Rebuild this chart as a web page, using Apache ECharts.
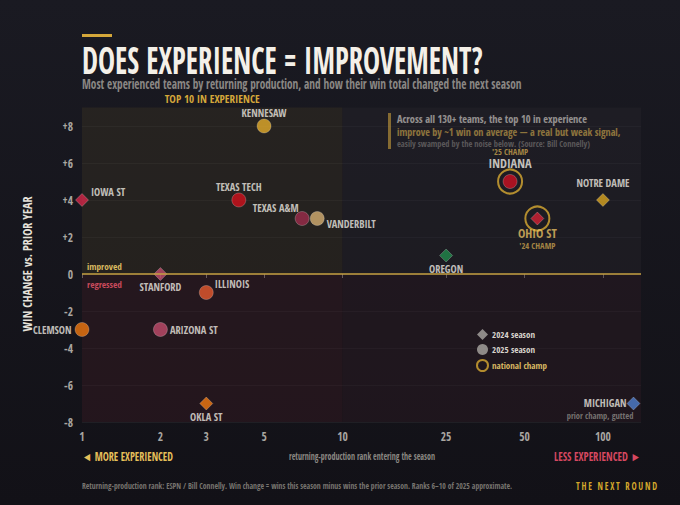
<!DOCTYPE html>
<html>
<head>
<meta charset="utf-8">
<script src="https://cdn.jsdelivr.net/npm/echarts@6/dist/echarts.min.js"></script>
<style>
html,body{margin:0;padding:0;background:#15141b;}
#chart{width:680px;height:505px;}
</style>
</head>
<body>
<div id="chart"></div>
<script>
// ---------------- DATA ----------------
const teams      = ['Kennesaw','Iowa St','Texas Tech','Texas A&M','Vanderbilt','Stanford','Illinois','Clemson','Arizona St','Okla St','Oregon','Indiana','Ohio St','Notre Dame','Michigan'];
const ranks      = [5, 1, 4, 7, 8, 2, 3, 1, 2, 3, 25, 44, 56, 100, 131];
const winChange  = [8, 4, 4, 3, 3, 0, -1, -3, -3, -7, 1, 5, 3, 4, -7];
const seasons    = [2025, 2024, 2025, 2025, 2025, 2024, 2025, 2025, 2025, 2024, 2024, 2025, 2024, 2024, 2024];
const champions  = ['Indiana', 'Ohio St'];
const champNotes = { 'Indiana': "'25 CHAMP", 'Ohio St': "'24 CHAMP" };
const xTickRanks = [1, 2, 3, 5, 10, 25, 50, 100];
const yTickVals  = [-8, -6, -4, -2, 0, 2, 4, 6, 8];
const rankMin    = 1;
const rankMax    = 140;
const winMin     = -8;
const winMax     = 9;
const top10Cut   = 10;

// ---------------- FONTS ----------------
const mctx = document.createElement('canvas').getContext('2d');
function hasFont(f){
  const s = 'KENNESAW mmwwiil 0123';
  const out = [];
  ['monospace','serif'].forEach(g=>{
    mctx.font = 'bold 40px ' + g; const a = mctx.measureText(s).width;
    mctx.font = "bold 40px '" + f + "', " + g; const b = mctx.measureText(s).width;
    out.push(a !== b);
  });
  return out[0] || out[1];
}
const fontCandidates = ['Liberation Sans Narrow','DejaVu Sans Condensed','Roboto Condensed','Oswald','Open Sans Condensed','Noto Sans Condensed','Roboto','Lato','Liberation Sans','Inter','Noto Sans','DejaVu Sans'];
let bestFont = 'sans-serif', bestW = Infinity;
fontCandidates.forEach(f=>{
  if (!hasFont(f)) return;
  mctx.font = "bold 40px '" + f + "'";
  const w = mctx.measureText('KENNESAW TEXAS A&M VANDERBILT').width;
  if (w < bestW) { bestW = w; bestFont = f; }
});
const COND = "'" + bestFont + "', sans-serif";
function textW(text, font){ mctx.font = font; return mctx.measureText(text).width; }
function fitScale(text, font, width){ const w = textW(text, font); return w > 0 ? width / w : 1; }
const LBL = Math.max(9.5, Math.min(11.5, 11 * 45 / textW('KENNESAW', 'bold 11px ' + COND)));

// ---------------- STYLES ----------------
const teamColors = {
  'Kennesaw':'#e4ab2b','Iowa St':'#d6284a','Texas Tech':'#d0101c','Texas A&M':'#9c2d4b',
  'Vanderbilt':'#d4af72','Stanford':'#c24d6b','Illinois':'#e65a2e','Clemson':'#f0780f',
  'Arizona St':'#c04c6c','Okla St':'#f27a12','Oregon':'#22894c','Indiana':'#cc1222',
  'Ohio St':'#d42234','Notre Dame':'#d9a520','Michigan':'#4f80cf'
};
const nameStyle = { color:'#eeeae2', fontFamily:COND, fontWeight:'bold', fontSize:LBL };
const labelSpec = {
  'Kennesaw':   { position:'top', distance:1 },
  'Iowa St':    { position:'right', distance:2, offset:[0,-8] },
  'Texas Tech': { position:'top', distance:1 },
  'Texas A&M':  { position:'left', distance:0, offset:[4,-11] },
  'Vanderbilt': { position:'right', distance:2, offset:[0,5] },
  'Stanford':   { position:'bottom', distance:1 },
  'Illinois':   { position:'right', distance:1, offset:[0,-9] },
  'Clemson':    { position:'left', distance:3 },
  'Arizona St': { position:'right', distance:2 },
  'Okla St':    { position:'bottom', distance:1 },
  'Oregon':     { position:'bottom', distance:1 },
  'Indiana':    { position:'top', distance:3 },
  'Ohio St':    { position:'bottom', distance:0 },
  'Notre Dame': { position:'top', distance:5 },
  'Michigan':   { position:'left', distance:5, offset:[12,5] }
};

function labelFor(t){
  const s = labelSpec[t];
  const base = Object.assign({ show:true }, nameStyle, s);
  if (t === 'Indiana') {
    base.formatter = '{c|' + champNotes[t] + '}\n{n|INDIANA}';
    base.rich = { c:{ color:'#c9a24e', fontFamily:COND, fontSize:8.5, align:'center', lineHeight:10 },
                  n:{ color:'#f2eee6', fontFamily:COND, fontWeight:'bold', fontSize:LBL + 2, align:'center', lineHeight:15 } };
  } else if (t === 'Ohio St') {
    base.formatter = '{n|OHIO ST}\n{c|' + champNotes[t] + '}';
    base.rich = { n:{ color:'#e8c062', fontFamily:COND, fontWeight:'bold', fontSize:LBL + 2, align:'center', lineHeight:15 },
                  c:{ color:'#c9a24e', fontFamily:COND, fontSize:8.5, align:'center', lineHeight:10 } };
  } else if (t === 'Michigan') {
    base.formatter = '{n|MICHIGAN}\n{s|prior champ, gutted}';
    base.rich = { n:{ color:'#eeeae2', fontFamily:COND, fontWeight:'bold', fontSize:LBL, align:'right', lineHeight:13, padding:[0,7,0,0] },
                  s:{ color:'#8d8a86', fontFamily:COND, fontSize:8.5, align:'right', lineHeight:11 } };
  } else {
    base.formatter = t.toUpperCase();
  }
  return base;
}

function point(i){
  const t = teams[i];
  return { name:t, value:[Math.log10(ranks[i]), winChange[i]],
           itemStyle:{ color:teamColors[t], borderColor:'rgba(255,255,255,0.28)', borderWidth:1 },
           label:labelFor(t) };
}
const idx = teams.map((t,i)=>i);
const data2024 = idx.filter(i=>seasons[i]===2024).map(point);
const data2025 = idx.filter(i=>seasons[i]===2025).map(point);
const dataChamp = champions.map(c=>{ const i = teams.indexOf(c); return { name:c, value:[Math.log10(ranks[i]), winChange[i]] }; });

const titleText = 'DOES EXPERIENCE = IMPROVEMENT?';
const titleFont = "bold 37px " + COND;
const subText = 'Most experienced teams by returning production, and how their win total changed the next season';
const subFont = "14px " + COND;
const footText = 'Returning-production rank: ESPN / Bill Connelly. Win change = wins this season minus wins the prior season. Ranks 6–10 of 2025 approximate.';
const footFont = "9.5px " + COND;
const ann1 = 'Across all 130+ teams, the top 10 in experience';
const ann2 = 'improve by ~1 win on average — a real but weak signal,';
const ann3 = 'easily swamped by the noise below. (Source: Bill Connelly)';
const ann1Font = "bold 11px " + COND, ann2Font = "bold 11px " + COND, ann3Font = "9px " + COND;
const moreText = '◄ MORE EXPERIENCED', lessText = 'LESS EXPERIENCED ►';
const dirFont = 'bold 12px ' + COND;
const xNameText = 'returning-production rank entering the season';
const xNameFont = '11px ' + COND;
const yNameBold = 'bold 12.5px ' + COND;
const brandText = 'THE NEXT ROUND'.split('').join('\u2009');
const brandFont = 'bold 11px ' + COND;
const top10Text = 'TOP 10 IN EXPERIENCE';
const top10Size = Math.min(11, 11 * 97 / textW(top10Text, 'bold 11px ' + COND));
const legendSize = Math.min(11, 11 * 43 / textW('2024 season', '11px ' + COND));
const markSize = Math.min(11, 11 * 35 / textW('regressed', 'bold 11px ' + COND));

const chart = echarts.init(document.getElementById('chart'), null, { renderer:'svg' });

const xLo = Math.log10(rankMin), xHi = Math.log10(rankMax), xCut = Math.log10(top10Cut);

const option = {
  backgroundColor: { type:'linear', x:0, y:0, x2:0, y2:1,
    colorStops:[{offset:0,color:'#1a1a22'},{offset:1,color:'#121117'}] },
  animation:false,
  grid:{ left:82, right:39, top:107.5, bottom:83, containLabel:false },
  legend:{
    left:471, top:324, orient:'vertical', itemWidth:11, itemHeight:11, itemGap:4,
    selectedMode:false,
    textStyle:{ color:'#d8d4cc', fontFamily:COND, fontSize:legendSize, padding:[0,0,0,-1] },
    data:[
      { name:'2024 season', icon:'diamond', itemStyle:{ color:'#aaa7a2', borderWidth:0 } },
      { name:'2025 season', icon:'circle', itemStyle:{ color:'#aaa7a2', borderWidth:0 } },
      { name:'national champ', icon:'circle', itemStyle:{ color:'rgba(0,0,0,0)', borderColor:'#d8aa32', borderWidth:2 },
        textStyle:{ color:'#d9b862' } }
    ]
  },
  xAxis:{
    type:'value', min:xLo, max:xHi,
    axisLine:{ show:false },
    splitLine:{ show:false },
    axisTick:{ show:true, length:4, inside:false, lineStyle:{ color:'#8a8782' },
               customValues: xTickRanks.map(r=>Math.log10(r)) },
    axisLabel:{ color:'#a9a6a1', fontFamily:COND, fontSize:11.5, margin:8,
                customValues: xTickRanks.map(r=>Math.log10(r)),
                formatter: v => String(Math.round(Math.pow(10, v))) }
  },
  yAxis:{
    type:'value', min:winMin, max:winMax, interval:2,
    axisLine:{ show:false }, axisTick:{ show:false },
    splitLine:{ show:true, showMaxLine:false, lineStyle:{ color:'rgba(255,255,255,0.055)', width:1 } },
    axisLabel:{ color:'#a9a6a1', fontFamily:COND, fontSize:11.5, margin:9,
                customValues: yTickVals,
                formatter: v => v > 0 ? '+' + v : String(v) }
  },
  series:[
    { name:'regions', type:'scatter', data:[], silent:true, z:-1,
      markArea:{ silent:true,
        data:[
          [{ coord:[xLo, 0], itemStyle:{ color:'rgba(60,52,34,0.40)' },
             label:{ show:true, position:'top', distance:4, formatter:top10Text,
                     color:'#d4a73a', fontFamily:COND, fontWeight:'bold', fontSize:top10Size } },
           { coord:[xCut, winMax] }],
          [{ coord:[xLo, winMin], itemStyle:{ color:'rgba(60,28,34,0.40)' }, label:{ show:false } },
           { coord:[xCut, 0] }],
          [{ coord:[xCut, 0], itemStyle:{ color:'rgba(38,36,42,0.45)' }, label:{ show:false } },
           { coord:[xHi, winMax] }],
          [{ coord:[xCut, winMin], itemStyle:{ color:'rgba(44,26,36,0.45)' }, label:{ show:false } },
           { coord:[xHi, 0] }]
        ] } },
    { name:'national champ', type:'scatter', symbol:'circle', symbolSize:24, silent:true, z:3,
      itemStyle:{ color:'rgba(0,0,0,0)', borderColor:'#d8aa32', borderWidth:2 },
      label:{ show:false }, data:dataChamp },
    { name:'2024 season', type:'scatter', symbol:'diamond', symbolSize:13, z:4,
      data:data2024,
      markLine:{ silent:true, symbol:'none',
        data:[
          { yAxis:0, lineStyle:{ color:'#c4a042', width:1.6, type:'solid' },
            label:{ show:true, position:'insideStartTop', distance:[5,3], formatter:'improved',
                    color:'#d8b860', fontFamily:COND, fontWeight:'bold', fontSize:markSize } },
          { yAxis:0, lineStyle:{ color:'rgba(0,0,0,0)', width:0 },
            label:{ show:true, position:'insideStartBottom', distance:[5,6], formatter:'regressed',
                    color:'#c84a5c', fontFamily:COND, fontWeight:'bold', fontSize:markSize } }
        ] } },
    { name:'2025 season', type:'scatter', symbol:'circle', symbolSize:14, z:4,
      data:data2025 }
  ],
  graphic:[
    { type:'rect', left:82, top:34, shape:{ width:30, height:3 }, style:{ fill:'#d4a73a' } },
    { type:'text', x:82, y:42, scaleX:fitScale(titleText, titleFont, 401),
      style:{ text:titleText, font:titleFont, fill:'#f4f0e8', textVerticalAlign:'top' } },
    { type:'text', x:82, y:76, scaleX:fitScale(subText, subFont, 440),
      style:{ text:subText, font:subFont, fill:'#8a8784', textVerticalAlign:'top' } },
    { type:'rect', left:388, top:113, shape:{ width:3, height:36 }, style:{ fill:'#d4a73a' } },
    { type:'text', x:397, y:113, scaleX:fitScale(ann1, ann1Font, 190),
      style:{ text:ann1, font:ann1Font, fill:'#f0ece4', textVerticalAlign:'top' } },
    { type:'text', x:397, y:126, scaleX:fitScale(ann2, ann2Font, 224),
      style:{ text:ann2, font:ann2Font, fill:'#e2b94e', textVerticalAlign:'top' } },
    { type:'text', x:397, y:139, scaleX:fitScale(ann3, ann3Font, 193),
      style:{ text:ann3, font:ann3Font, fill:'#858280', textVerticalAlign:'top' } },
    { type:'text', x:27, y:264, rotation:Math.PI/2, scaleX:fitScale('WIN CHANGE vs. PRIOR YEAR', yNameBold, 135),
      style:{ text:'WIN CHANGE vs. PRIOR YEAR', font:yNameBold, fill:'#e6e2da', textAlign:'center', textVerticalAlign:'middle' } },
    { type:'text', x:362, y:450, scaleX:fitScale(xNameText, xNameFont, 146),
      style:{ text:xNameText, font:xNameFont, fill:'#8a8782', textAlign:'center', textVerticalAlign:'top' } },
    { type:'text', x:82, y:450, scaleX:fitScale(moreText, dirFont, 91),
      style:{ text:moreText, font:dirFont, fill:'#e5bf5a', textVerticalAlign:'top' } },
    { type:'text', x:641, y:450, scaleX:fitScale(lessText, dirFont, 87),
      style:{ text:lessText, font:dirFont, fill:'#d64860', textAlign:'right', textVerticalAlign:'top' } },
    { type:'text', x:82, y:481, scaleX:fitScale(footText, footFont, 431),
      style:{ text:footText, font:footFont, fill:'#77746f', textVerticalAlign:'top' } },
    { type:'text', x:657, y:480, scaleX:fitScale(brandText, brandFont, 81),
      style:{ text:brandText, font:brandFont, fill:'#d4a82c', textAlign:'right', textVerticalAlign:'top' } }
  ]
};
chart.setOption(option);
</script>
</body>
</html>
